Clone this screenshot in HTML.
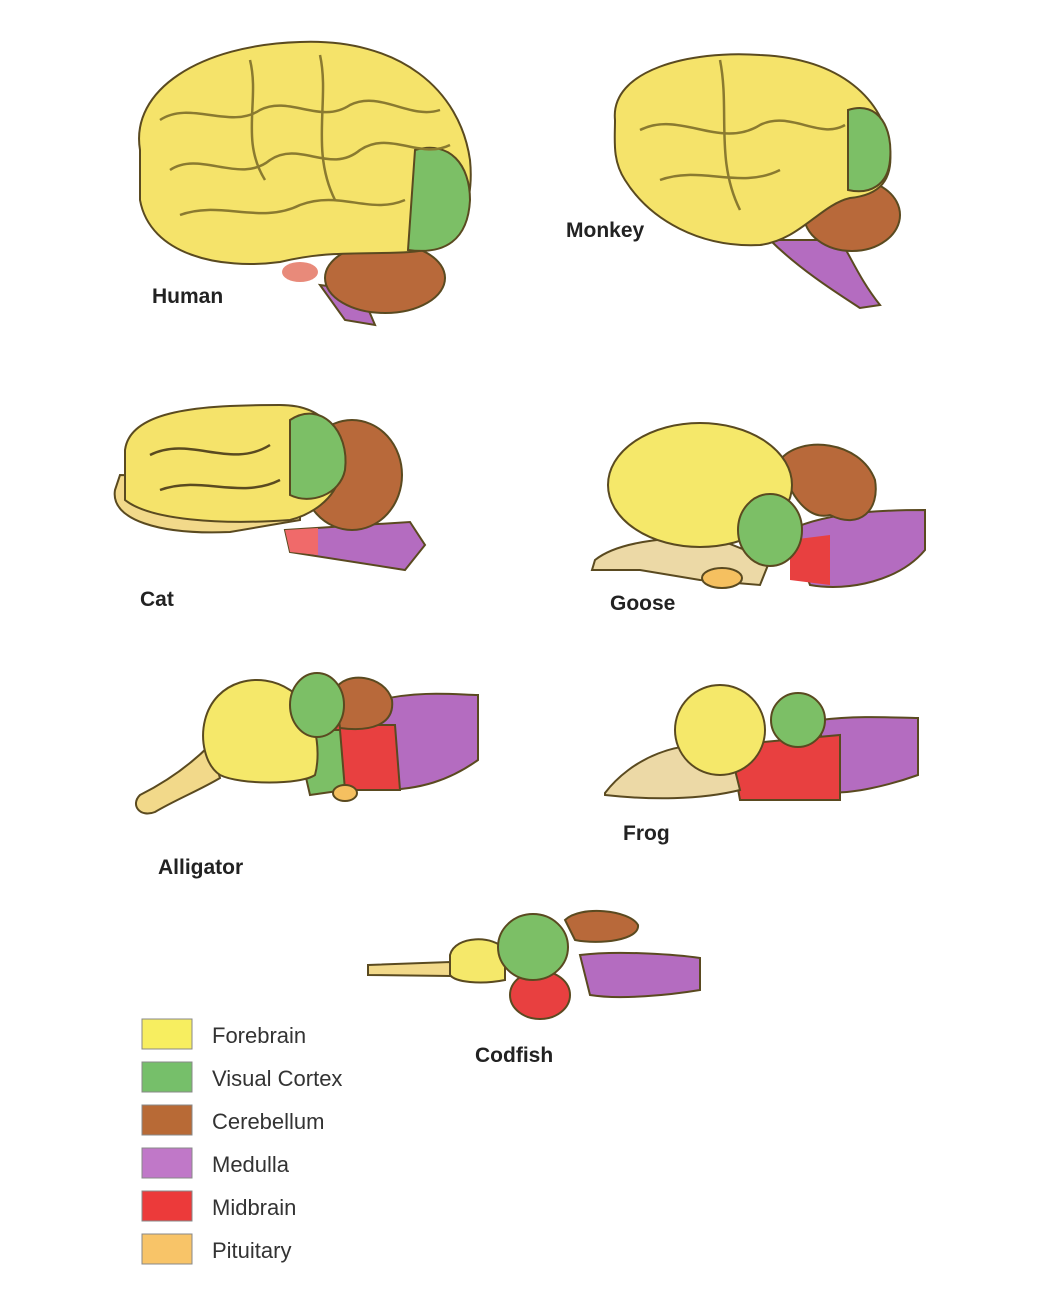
<!DOCTYPE html>
<html><head><meta charset="utf-8"><style>
body{margin:0;background:#fff;}
svg{display:block;}
text{font-family:"Liberation Sans",Arial,sans-serif;}
.lb{font-weight:bold;font-size:21px;fill:#222;}
.lg{font-size:22px;fill:#333;}
.o{stroke:#5a4a20;stroke-width:2;}
</style></head><body>
<svg width="1053" height="1298" viewBox="0 0 1053 1298">
<!-- HUMAN -->
<path class="o" d="M320,285 L345,320 L375,325 L360,290 Z" fill="#b46cc0"/>
<ellipse class="o" cx="385" cy="278" rx="60" ry="35" fill="#b8693a"/>
<ellipse cx="300" cy="272" rx="18" ry="10" fill="#e88a7a"/>
<path class="o" d="M140,150 C130,90 200,45 300,42 C400,38 460,90 470,160 C475,210 455,250 410,252 C360,255 330,250 280,262 C220,270 150,255 140,200 Z" fill="#f5e36a"/>
<path class="o" d="M415,150 C450,140 470,165 470,200 C468,240 445,255 408,250 Z" fill="#7cbf66"/>
<g fill="none" stroke="#8a7a30" stroke-width="2.5">
<path d="M160,120 C190,100 230,130 260,110 C290,95 320,125 350,105 C380,90 410,120 440,110"/>
<path d="M170,170 C200,150 240,185 270,160 C300,140 330,175 360,150 C390,130 420,160 450,145"/>
<path d="M180,215 C220,200 260,225 300,205 C340,190 370,215 405,200"/>
<path d="M250,60 C260,100 240,140 265,180"/><path d="M320,55 C330,100 310,150 335,200"/>
</g>
<!-- MONKEY -->
<path class="o" d="M770,240 C800,270 840,295 860,308 L880,305 C860,280 850,255 840,240 Z" fill="#b46cc0"/>
<ellipse class="o" cx="852" cy="215" rx="48" ry="36" fill="#b8693a"/>
<path class="o" d="M615,120 C610,70 690,50 760,55 C840,58 885,100 890,150 C893,180 880,195 850,198 C820,205 800,240 760,245 C700,248 650,220 625,180 C612,160 615,140 615,120 Z" fill="#f5e36a"/>
<path class="o" d="M848,110 C880,100 893,130 890,160 C888,185 870,195 848,190 Z" fill="#7cbf66"/>
<g fill="none" stroke="#8a7a30" stroke-width="2.5">
<path d="M640,130 C680,110 720,150 760,125 C790,110 820,140 845,125"/>
<path d="M660,180 C700,165 740,190 780,170"/><path d="M720,60 C730,110 715,160 740,210"/>
</g>
<!-- CAT -->
<path class="o" d="M285,530 L410,522 L425,545 L405,570 L290,552 Z" fill="#b46cc0"/>
<path d="M285,530 L318,528 L318,555 L290,552 Z" fill="#f06a6a"/>
<ellipse class="o" cx="352" cy="475" rx="50" ry="55" fill="#b8693a"/>
<path class="o" d="M115,490 C110,520 160,535 230,532 L300,520 L300,480 L120,475 Z" fill="#f2d98a"/>
<path class="o" d="M125,450 C130,410 200,405 280,405 C330,405 345,440 340,475 C335,500 310,515 290,520 C220,525 150,520 125,500 Z" fill="#f5e36a"/>
<path class="o" d="M290,420 C320,400 350,430 345,470 C340,495 310,505 290,495 Z" fill="#7cbf66"/>
<g fill="none" stroke="#5a4a20" stroke-width="2.5"><path d="M150,455 C190,435 230,470 270,445"/><path d="M160,490 C200,475 240,500 280,480"/></g>
<!-- GOOSE -->
<path class="o" d="M790,530 C830,510 900,510 925,510 L925,550 C900,580 850,592 810,585 Z" fill="#b46cc0"/>
<path d="M790,540 L830,535 L830,585 L790,580 Z" fill="#e84040"/>
<path class="o" d="M780,460 C800,435 860,440 875,480 C880,510 860,530 830,515 C810,520 790,500 780,460 Z" fill="#b8693a"/>
<path class="o" d="M595,560 C620,540 680,535 720,540 L770,560 L760,585 L700,580 L640,570 L592,570 Z" fill="#ecd9a6"/>
<ellipse class="o" cx="722" cy="578" rx="20" ry="10" fill="#f5c060"/>
<ellipse class="o" cx="700" cy="485" rx="92" ry="62" fill="#f5e86a"/>
<ellipse class="o" cx="770" cy="530" rx="32" ry="36" fill="#7cbf66"/>
<!-- ALLIGATOR -->
<path class="o" d="M380,700 C420,690 460,695 478,695 L478,760 C450,780 420,790 380,790 Z" fill="#b46cc0"/>
<path class="o" d="M335,725 L395,725 L400,790 L340,790 Z" fill="#e84040"/>
<path class="o" d="M335,690 C345,670 385,675 392,700 C395,725 370,732 340,728 Z" fill="#b8693a"/>
<path class="o" d="M295,730 L340,730 L345,790 L310,795 Z" fill="#7cbf66"/>
<ellipse class="o" cx="345" cy="793" rx="12" ry="8" fill="#f5c060"/>
<path class="o" d="M210,745 C180,775 150,790 140,795 C130,805 140,818 155,812 C175,800 200,790 220,778 Z" fill="#f2d98a"/>
<path class="o" d="M205,720 C215,680 260,670 290,690 C315,705 322,750 315,775 C300,785 240,785 220,775 C205,765 200,740 205,720 Z" fill="#f5e86a"/>
<ellipse class="o" cx="317" cy="705" rx="27" ry="32" fill="#7cbf66"/>
<!-- FROG -->
<path class="o" d="M820,720 C860,715 900,718 918,718 L918,775 C890,785 850,795 825,792 Z" fill="#b46cc0"/>
<path d="M730,745 L840,735 L840,800 L740,800 Z" fill="#e84040" stroke="#5a4a20" stroke-width="2"/>
<path class="o" d="M605,793 C630,760 680,735 730,750 L740,790 C700,800 650,800 605,795 Z" fill="#ecd9a6"/>
<ellipse class="o" cx="720" cy="730" rx="45" ry="45" fill="#f5e86a"/>
<ellipse class="o" cx="798" cy="720" rx="27" ry="27" fill="#7cbf66"/>
<!-- CODFISH -->
<path class="o" d="M580,955 C620,950 680,955 700,958 L700,990 C670,995 620,1000 590,995 Z" fill="#b46cc0"/>
<path class="o" d="M565,920 C580,905 630,910 638,925 C640,940 600,945 575,940 Z" fill="#b8693a"/>
<ellipse class="o" cx="540" cy="995" rx="30" ry="24" fill="#e84040"/>
<path class="o" d="M368,965 L450,962 L450,976 L368,975 Z" fill="#f2d98a"/>
<path class="o" d="M450,955 C455,935 495,935 505,950 L505,980 C480,985 455,982 450,975 Z" fill="#f5e86a"/>
<ellipse class="o" cx="533" cy="947" rx="35" ry="33" fill="#7cbf66"/>
<!-- labels -->
<text class="lb" x="152" y="303">Human</text>
<text class="lb" x="566" y="237">Monkey</text>
<text class="lb" x="140" y="606">Cat</text>
<text class="lb" x="610" y="610">Goose</text>
<text class="lb" x="158" y="874">Alligator</text>
<text class="lb" x="623" y="840">Frog</text>
<text class="lb" x="475" y="1062">Codfish</text>
<!-- legend -->
<g stroke="#888" stroke-width="1">
<rect x="142" y="1019" width="50" height="30" fill="#f7ee60"/>
<rect x="142" y="1062" width="50" height="30" fill="#76bf6a"/>
<rect x="142" y="1105" width="50" height="30" fill="#b86a36"/>
<rect x="142" y="1148" width="50" height="30" fill="#c078c8"/>
<rect x="142" y="1191" width="50" height="30" fill="#ec3a3a"/>
<rect x="142" y="1234" width="50" height="30" fill="#f8c468"/>
</g>
<text class="lg" x="212" y="1043">Forebrain</text>
<text class="lg" x="212" y="1086">Visual Cortex</text>
<text class="lg" x="212" y="1129">Cerebellum</text>
<text class="lg" x="212" y="1172">Medulla</text>
<text class="lg" x="212" y="1215">Midbrain</text>
<text class="lg" x="212" y="1258">Pituitary</text>
</svg>
</body></html>
